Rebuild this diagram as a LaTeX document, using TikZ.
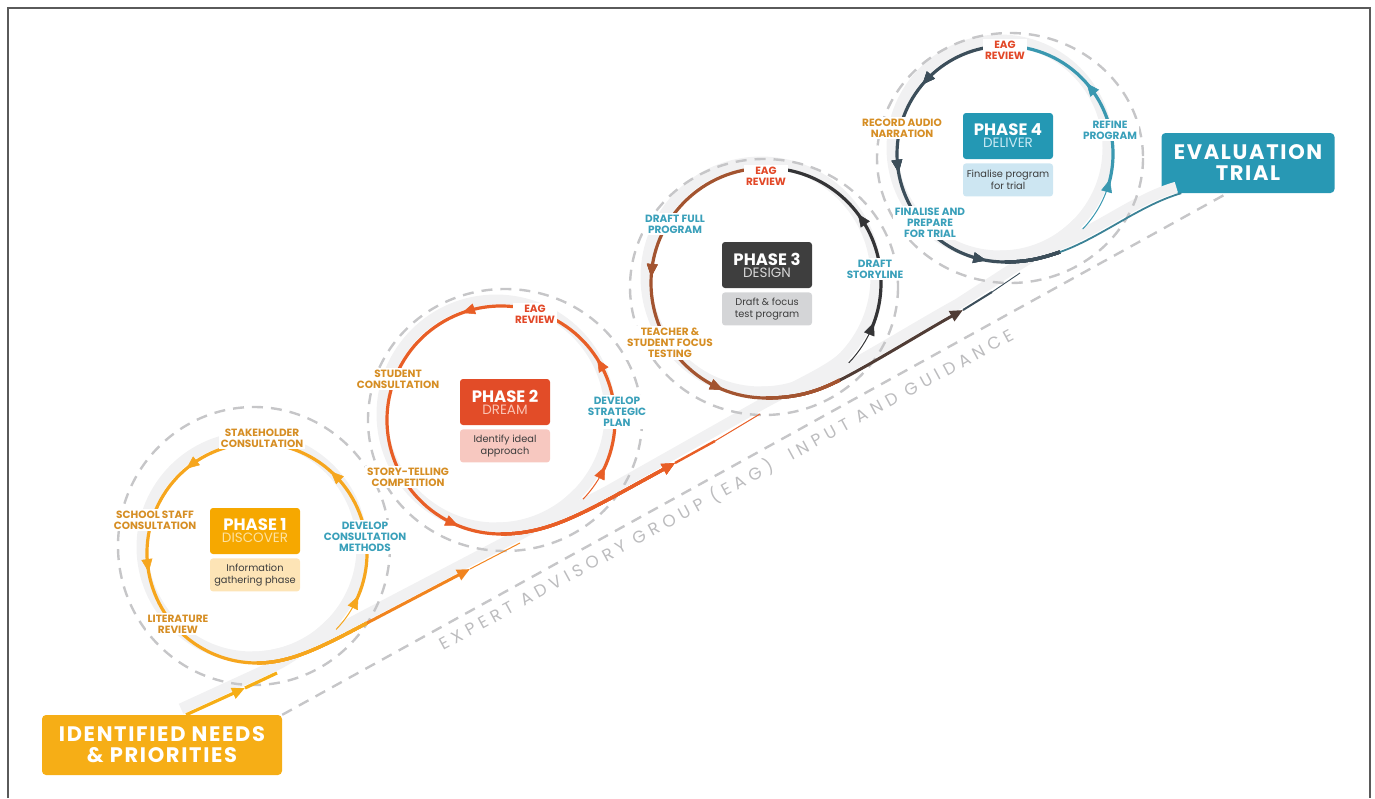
\documentclass[tikz,border=0pt]{standalone}
\usepackage{fontspec}
\setmainfont{Poppins}
\usepackage{tikz}
\usetikzlibrary{arrows.meta,positioning,calc}

\definecolor{dorange}{RGB}{246,166,30}
\definecolor{dorangeb}{RGB}{241,132,30}
\definecolor{dred}{RGB}{232,94,38}
\definecolor{dbrown}{RGB}{163,84,48}
\definecolor{ddark}{RGB}{52,52,54}
\definecolor{dslate}{RGB}{60,78,90}
\definecolor{dteal}{RGB}{58,152,176}
\definecolor{lblorange}{RGB}{214,142,36}
\definecolor{lblblue}{RGB}{58,160,186}
\definecolor{lblred}{RGB}{226,72,40}
\definecolor{ribbon}{RGB}{241,241,242}
\definecolor{dashgray}{RGB}{198,198,200}
\definecolor{railtext}{RGB}{188,188,190}
\definecolor{box1}{RGB}{246,168,0}
\definecolor{sub1}{RGB}{253,228,182}
\definecolor{ttl1}{RGB}{253,226,160}
\definecolor{box2}{RGB}{226,76,40}
\definecolor{sub2}{RGB}{247,200,192}
\definecolor{ttl2}{RGB}{250,196,180}
\definecolor{box3}{RGB}{62,62,62}
\definecolor{sub3}{RGB}{212,213,215}
\definecolor{ttl3}{RGB}{215,215,215}
\definecolor{box4}{RGB}{36,152,180}
\definecolor{sub4}{RGB}{205,230,242}
\definecolor{ttl4}{RGB}{200,234,244}
\definecolor{needsc}{RGB}{246,174,22}
\definecolor{evalc}{RGB}{40,152,180}
\definecolor{subtxt}{RGB}{60,60,60}
\definecolor{framec}{RGB}{90,90,90}

\newcommand{\lblfont}{\fontsize{10.5}{11}\selectfont\bfseries}
\newcommand{\phtitle}[3]{{\fontsize{16.5}{17}\selectfont\bfseries #1}\\{\fontsize{13.5}{17}\selectfont\color{#3}#2}}
\newcommand{\cirarr}[4]{\draw[#4, line width=0.5pt, -tri] ($(#1)+({#3+4}:#2)$) -- ($(#1)+(#3:#2)$);}

\begin{document}
\begin{tikzpicture}[x=1pt, y=-1pt,
    lbl/.style={fill=white, inner sep=1.8pt, align=center, font=\lblfont},
    phbox/.style={minimum width=90pt, minimum height=46pt, inner sep=0pt, rounded corners=3pt, align=center, text=white},
    subbox/.style={minimum width=90pt, minimum height=33pt, inner sep=0pt, rounded corners=3pt, align=center, text=subtxt,
        font=\fontsize{9.8}{12}\selectfont},
    bigbox/.style={inner sep=0pt, rounded corners=4pt, align=center, text=white,
        font={\fontsize{21}{21}\selectfont\bfseries\addfontfeatures{LetterSpace=8}}},
    dashcirc/.style={dashgray, line width=2.4pt, dash pattern=on 11pt off 8pt},
    ribbonline/.style={ribbon, line width=11pt},
    railtxt/.style={text=railtext, inner sep=0pt, font={\fontsize{17}{17}\selectfont\addfontfeatures{LetterSpace=30}}},
    tri/.tip={Triangle[length=13pt,width=11pt]},
]
\useasboundingbox (0,0) rectangle (1375,798);

% circle centres, entries and exits
\coordinate (c1) at (257,553);
\coordinate (c2) at (501,420);
\coordinate (c3) at (766,283);
\coordinate (c4) at (1005,154);
\coordinate (p1in) at ($(c1)+(44:110)$);
\coordinate (p2in) at ($(c2)+(44:114)$);
\coordinate (p3in) at ($(c3)+(44:115)$);
\coordinate (p4in) at ($(c4)+(44:108)$);
\coordinate (p1out) at ($(c1)+(90:110)$);
\coordinate (p2out) at ($(c2)+(90:114)$);
\coordinate (p3out) at ($(c3)+(90:115)$);
\coordinate (p4out) at ($(c4)+(90:108)$);

% end boxes
\node[bigbox, fill=needsc, minimum width=240pt, minimum height=60pt] (needsbox) at (162,745) {IDENTIFIED NEEDS\\\& PRIORITIES};
\node[bigbox, fill=evalc, minimum width=173pt, minimum height=60pt] (evalbox) at (1248,163) {EVALUATION\\TRIAL};
\coordinate (r0start) at ($(needsbox.north west)!0.6!(needsbox.north east)$);
\coordinate (evalpt) at ($(evalbox.south west)+(20,0)$);

% grey ribbon under the loops
\begin{scope}[transform canvas={shift={(-5pt,6pt)}}]
    \foreach \c/\r in {c1/110,c2/114,c3/115,c4/108}
        \draw[ribbonline] (\c) circle[radius=\r];
    \draw[ribbonline] (r0start) -- (277,673) .. controls (300,663) and (322,643) .. (p1in);
    \draw[ribbonline] (p1out) .. controls (290,663) and (320,648) .. (367,623) -- (520,543) .. controls (555,525) and (569,513) .. (p2in);
    \draw[ribbonline] (p2out) .. controls (540,534) and (570,520) .. (613,497) -- (760,414) .. controls (795,394) and (835,377) .. (p3in);
    \draw[ribbonline] (p3out) .. controls (800,398) and (820,390) .. (840,380) .. controls (870,365) and (930,328) .. (963,310) -- (1020,273) .. controls (1048,256) and (1069,243) .. (p4in);
    \draw[ribbonline] (p4out) .. controls (1030,262) and (1045,257) .. (1060,252) .. controls (1100,238) and (1140,205) .. (evalpt);
\end{scope}

% dashed rings and the EAG rail
\draw[dashcirc] (254,546) ellipse[x radius=136, y radius=139];
\draw[dashcirc] (505,420) ellipse[x radius=137, y radius=131];
\draw[dashcirc] (764,287) ellipse[x radius=134, y radius=128];
\draw[dashcirc] (1010,158) ellipse[x radius=133, y radius=125];
\draw[dashcirc] (needsbox.north east) -- ($(evalbox.south west)+(66,0)$);
\node[railtxt, rotate=28.6, anchor=base west] (eagtxt) at (443,651) {EXPERT ADVISORY GROUP (EAG)\hspace{10pt} INPUT AND GUIDANCE};

% phase 1
\draw[needsc, line width=3.2pt, -tri] (r0start) -- (245,688);
\draw[needsc, line width=3.2pt] (245,688) -- (277,673);
\draw[dorange, line width=1pt] (p1in) arc[start angle=44, end angle=24, radius=110];
\draw[dorange, line width=3.2pt] (c1) ++(26:110) arc[start angle=26, end angle=-270, radius=110];
\foreach \a in {23,-48,-130,-190}
    \cirarr{c1}{110}{\a}{dorange}
\draw[dorange, line width=3.2pt] (p1out) .. controls (290,663) and (320,648) .. (367,623);
\draw[dorangeb, line width=3pt, -tri] (367,623) -- (470,569);
\draw[dorangeb, line width=1pt] (470,569) -- (520,543);

% phase 2
\draw[dred, line width=1pt] (p2in) arc[start angle=44, end angle=24, radius=114];
\draw[dred, line width=3.2pt] (c2) ++(26:114) arc[start angle=26, end angle=-270, radius=114];
\foreach \a in {24,-32.5,-110,-248}
    \cirarr{c2}{114}{\a}{dred}
\draw[dred, line width=3.2pt, -tri] (p2out) .. controls (540,534) and (570,520) .. (613,497) -- (675,463);
\draw[dred, line width=2.4pt] (675,463) -- (715,441);
\draw[dred, line width=1pt] (715,441) -- (760,414);

% phase 3
\draw[ddark, line width=1pt] (p3in) arc[start angle=44, end angle=22, radius=115];
\draw[ddark, line width=3.2pt] (c3) ++(24:115) arc[start angle=24, end angle=-90, radius=115];
\draw[dbrown, line width=3.2pt] (c3) ++(-90:115) arc[start angle=-90, end angle=-270, radius=115];
\foreach \a in {20,-37}
    \cirarr{c3}{115}{\a}{ddark}
\foreach \a in {-177,-248}
    \cirarr{c3}{115}{\a}{dbrown}
\draw[dbrown, line width=3.2pt] (p3out) .. controls (800,398) and (820,390) .. (840,380);
\draw[ddark!75!dbrown, line width=3pt, -tri] (840,380) .. controls (870,365) and (930,328) .. (963,310);
\draw[dslate, line width=2pt] (963,310) -- (992,292);
\draw[dslate, line width=0.9pt] (992,292) -- (1020,273);

% phase 4
\draw[dteal, line width=1pt] (p4in) arc[start angle=44, end angle=16, radius=108];
\draw[dteal, line width=3.2pt] (c4) ++(18:108) arc[start angle=18, end angle=-90, radius=108];
\draw[dslate, line width=3.2pt] (c4) ++(-90:108) arc[start angle=-90, end angle=-270, radius=108];
\foreach \a in {13.5,-41}
    \cirarr{c4}{108}{\a}{dteal}
\foreach \a in {-140,-190,-260}
    \cirarr{c4}{108}{\a}{dslate}
\draw[dslate, line width=3.2pt] (p4out) .. controls (1030,262) and (1045,257) .. (1060,252);
\draw[dteal!70!dslate, line width=1.8pt] (1060,252) .. controls (1100,238) and (1140,205) .. (evalpt);

% step labels
\node[lbl, text=lblorange] (stake) at (262,438) {STAKEHOLDER\\CONSULTATION};
\node[lbl, text=lblorange] (school) at (155,520) {SCHOOL STAFF\\CONSULTATION};
\node[lbl, text=lblorange] (lit) at (178,624) {LITERATURE\\REVIEW};
\node[lbl, text=lblblue] (devcons) at (365,537) {DEVELOP\\CONSULTATION\\METHODS};

\node[lbl, text=lblred] (eag2) at (535,314) {EAG\\REVIEW};
\node[lbl, text=lblorange] (student) at (398,379) {STUDENT\\CONSULTATION};
\node[lbl, text=lblblue] (strategic) at (617,412) {DEVELOP\\STRATEGIC\\PLAN};
\node[lbl, text=lblorange] (story) at (408,477) {STORY-TELLING\\COMPETITION};

\node[lbl, text=lblred] (eag3) at (766,176) {EAG\\REVIEW};
\node[lbl, text=lblblue] (draftfull) at (675,224) {DRAFT FULL\\PROGRAM};
\node[lbl, text=lblblue] (storyline) at (875,269) {DRAFT\\STORYLINE};
\node[lbl, text=lblorange] (teacher) at (670,343) {TEACHER \&\\STUDENT FOCUS\\TESTING};

\node[lbl, text=lblred] (eag4) at (1005,50) {EAG\\REVIEW};
\node[lbl, text=lblorange] (record) at (902,128) {RECORD AUDIO\\NARRATION};
\node[lbl, text=lblblue] (refine) at (1110,130) {REFINE\\PROGRAM};
\node[lbl, text=lblblue] (finalise) at (930,223) {FINALISE AND\\PREPARE\\FOR TRIAL};

% phase boxes
\node[phbox, fill=box1] (p1) at (255,531) {\phtitle{PHASE 1}{DISCOVER}{ttl1}};
\node[subbox, fill=sub1, below=4pt of p1] (p1sub) {Information\\gathering phase};
\node[phbox, fill=box2] (p2) at (505,402) {\phtitle{PHASE 2}{DREAM}{ttl2}};
\node[subbox, fill=sub2, below=4pt of p2] (p2sub) {Identify ideal\\approach};
\node[phbox, fill=box3] (p3) at (767,265) {\phtitle{PHASE 3}{DESIGN}{ttl3}};
\node[subbox, fill=sub3, below=4pt of p3] (p3sub) {Draft \& focus\\test program};
\node[phbox, fill=box4] (p4) at (1008,136) {\phtitle{PHASE 4}{DELIVER}{ttl4}};
\node[subbox, fill=sub4, below=4pt of p4] (p4sub) {Finalise program\\for trial};

% frame
\draw[framec, line width=1.2pt] (8,798) -- (8,8) -- (1370,8) -- (1370,798);
\end{tikzpicture}
\end{document}
